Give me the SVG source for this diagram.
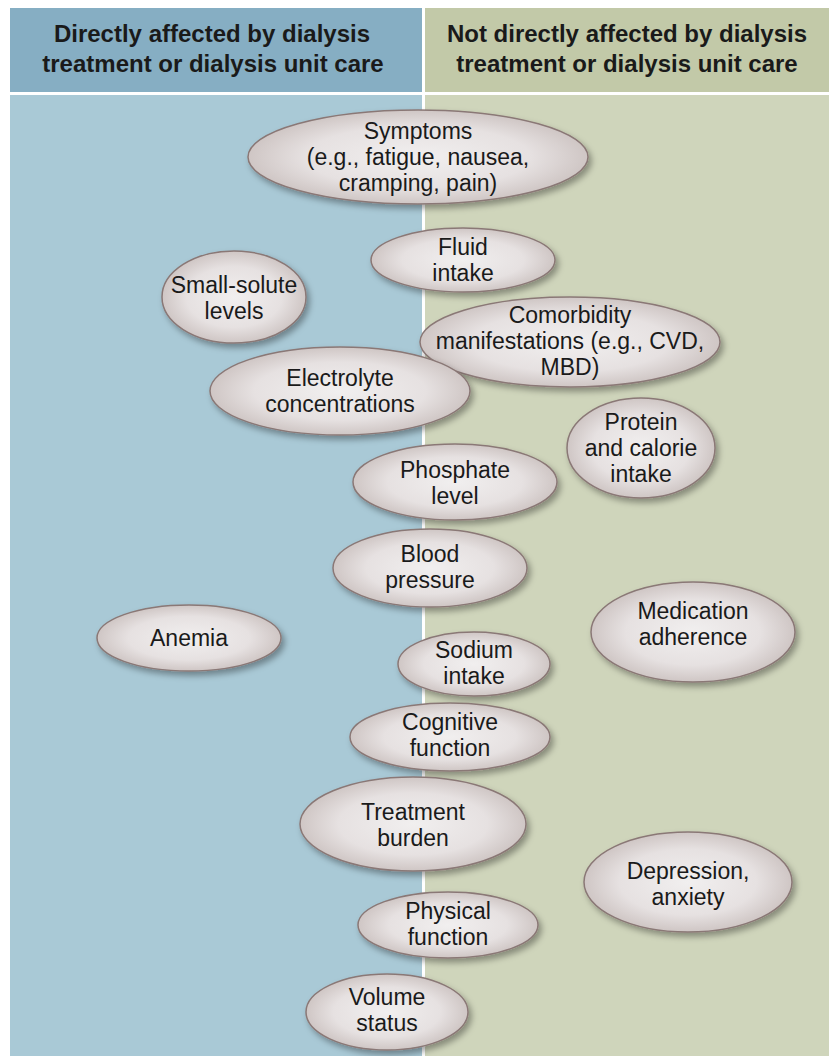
<svg xmlns="http://www.w3.org/2000/svg" width="829" height="1056" viewBox="0 0 829 1056">
<defs>
<radialGradient id="g" cx="50%" cy="50%" r="55%">
<stop offset="0" stop-color="#f1efef"/>
<stop offset="0.6" stop-color="#e6e1e1"/>
<stop offset="1" stop-color="#c8bebc"/>
</radialGradient>
<filter id="sh" x="-20%" y="-20%" width="140%" height="150%">
<feDropShadow dx="3" dy="4" stdDeviation="3" flood-color="#000" flood-opacity="0.35"/>
</filter>
</defs>
<style>
.e{fill:url(#g);stroke:#8a7876;stroke-width:1.5;filter:url(#sh)}
.t{font-family:"Liberation Sans",Arial,sans-serif;font-size:23px;fill:#1a1a1a;text-anchor:middle}
.h{font-family:"Liberation Sans",Arial,sans-serif;font-size:24px;font-weight:bold;fill:#1a1a1a;text-anchor:middle}
</style>
<rect width="829" height="1056" fill="#ffffff"/>
<g id="panels">
<rect x="10" y="8" width="412" height="84" fill="#86aec3"/>
<rect x="425" y="8" width="404" height="84" fill="#c2c9a8"/>
<rect x="10" y="95" width="412" height="961" fill="#a9c9d6"/>
<rect x="425" y="95" width="404" height="961" fill="#cfd5bb"/>
</g>
<g id="headers">
<text class="h" x="212" y="42">Directly affected by dialysis</text>
<text class="h" x="213" y="72">treatment or dialysis unit care</text>
<text class="h" x="627" y="42">Not directly affected by dialysis</text>
<text class="h" x="627" y="72">treatment or dialysis unit care</text>
</g>
<g id="connectors"></g>
<g id="n-symptoms"><ellipse class="e" cx="418" cy="157" rx="170" ry="47"/>
<text class="t" x="418" y="139">Symptoms</text><text class="t" x="418" y="165">(e.g., fatigue, nausea,</text><text class="t" x="418" y="191">cramping, pain)</text></g>
<g id="n-fluid"><ellipse class="e" cx="463" cy="260" rx="92" ry="32"/>
<text class="t" x="463" y="255">Fluid</text><text class="t" x="463" y="281">intake</text></g>
<g id="n-smallsolute"><ellipse class="e" cx="234" cy="297" rx="72" ry="46"/>
<text class="t" x="234" y="293">Small-solute</text><text class="t" x="234" y="319">levels</text></g>
<g id="n-comorbidity"><ellipse class="e" cx="570" cy="342" rx="150" ry="45"/>
<text class="t" x="570" y="323">Comorbidity</text><text class="t" x="570" y="349">manifestations (e.g., CVD,</text><text class="t" x="570" y="375">MBD)</text></g>
<g id="n-electrolyte"><ellipse class="e" cx="340" cy="391" rx="130" ry="44"/>
<text class="t" x="340" y="386">Electrolyte</text><text class="t" x="340" y="412">concentrations</text></g>
<g id="n-protein"><ellipse class="e" cx="641" cy="448" rx="74" ry="50"/>
<text class="t" x="641" y="430">Protein</text><text class="t" x="641" y="456">and calorie</text><text class="t" x="641" y="482">intake</text></g>
<g id="n-phosphate"><ellipse class="e" cx="455" cy="482" rx="102" ry="38"/>
<text class="t" x="455" y="478">Phosphate</text><text class="t" x="455" y="504">level</text></g>
<g id="n-bp"><ellipse class="e" cx="430" cy="568" rx="97" ry="39"/>
<text class="t" x="430" y="562">Blood</text><text class="t" x="430" y="588">pressure</text></g>
<g id="n-anemia"><ellipse class="e" cx="189" cy="638" rx="92" ry="33"/>
<text class="t" x="189" y="646">Anemia</text></g>
<g id="n-medication"><ellipse class="e" cx="693" cy="632" rx="102" ry="50"/>
<text class="t" x="693" y="619">Medication</text><text class="t" x="693" y="645">adherence</text></g>
<g id="n-sodium"><ellipse class="e" cx="474" cy="664" rx="76" ry="32"/>
<text class="t" x="474" y="658">Sodium</text><text class="t" x="474" y="684">intake</text></g>
<g id="n-cognitive"><ellipse class="e" cx="450" cy="737" rx="100" ry="34"/>
<text class="t" x="450" y="730">Cognitive</text><text class="t" x="450" y="756">function</text></g>
<g id="n-burden"><ellipse class="e" cx="413" cy="824" rx="113" ry="47"/>
<text class="t" x="413" y="820">Treatment</text><text class="t" x="413" y="846">burden</text></g>
<g id="n-depression"><ellipse class="e" cx="688" cy="882" rx="104" ry="50"/>
<text class="t" x="688" y="879">Depression,</text><text class="t" x="688" y="905">anxiety</text></g>
<g id="n-physical"><ellipse class="e" cx="448" cy="925" rx="90" ry="33"/>
<text class="t" x="448" y="919">Physical</text><text class="t" x="448" y="945">function</text></g>
<g id="n-volume"><ellipse class="e" cx="387" cy="1012" rx="81" ry="38"/>
<text class="t" x="387" y="1005">Volume</text><text class="t" x="387" y="1031">status</text></g>
</svg>
